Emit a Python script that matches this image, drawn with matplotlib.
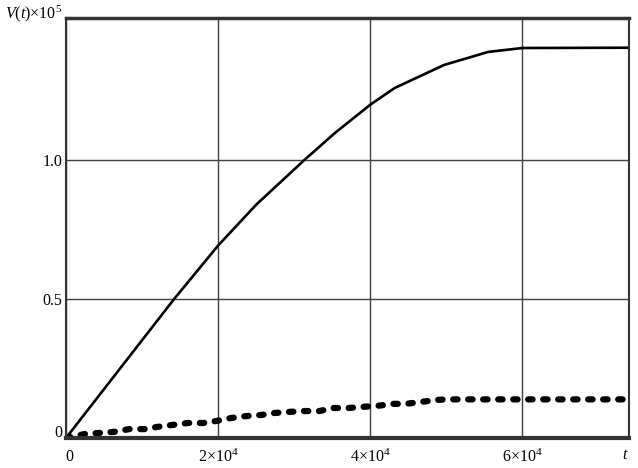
import matplotlib
matplotlib.use("Agg")
import matplotlib.pyplot as plt
from matplotlib.transforms import ScaledTranslation

plt.rcParams['font.family'] = ['Liberation Serif', 'DejaVu Serif']
plt.rcParams['mathtext.fontset'] = 'custom'
plt.rcParams['mathtext.rm'] = 'Liberation Serif'
plt.rcParams['mathtext.it'] = 'Liberation Serif:italic'

# Solid curve V(t) (units of 1e5)
t_solid = [0, 14200, 20000, 25000, 31300, 35300, 40000, 43200, 49700, 55500, 60000, 74000]
v_solid = [0, 0.50, 0.693, 0.84, 1.00, 1.097, 1.20, 1.26, 1.343, 1.39, 1.404, 1.405]

# Dashed curve
t_dash = [0, 2400, 4300, 6300, 8300, 10300, 12000, 14000, 16000, 18000, 19700, 21700,
          23700, 25700, 27400, 29300, 31300, 33300, 35100, 37100, 39000, 41000, 43000,
          44700, 46700, 48700, 50000, 74000]
v_dash = [0, 0.014, 0.018, 0.022, 0.032, 0.032, 0.040, 0.047, 0.054, 0.054, 0.061, 0.072,
          0.079, 0.083, 0.090, 0.094, 0.097, 0.097, 0.108, 0.108, 0.112, 0.116, 0.123,
          0.123, 0.130, 0.137, 0.139, 0.139]

x_ticks = [0, 20000, 40000, 60000]
x_labels = ['0', r'2×10$^4$', r'4×10$^4$', r'6×10$^4$']
y_ticks = [0, 0.5, 1.0]
y_labels = ['0', '0.5', '1.0']

fig = plt.figure(figsize=(6.38, 4.68), dpi=100)
ax = fig.add_axes([66/638, 1-438/468, (629-66)/638, (438-18)/468])

ax.plot(t_solid, v_solid, color='black', lw=1.9, solid_joinstyle='round')
ax.plot(t_dash, v_dash, color='black', lw=4.5, dashes=(0.7, 1.7),
        dash_capstyle='round', dash_joinstyle='round')

ax.set_xlim(0, 74000)
ax.set_ylim(0, 1.512)
ax.set_xticks(x_ticks)
ax.set_xticklabels(x_labels)
ax.set_yticks(y_ticks)
ax.set_yticklabels(y_labels)
ax.tick_params(length=0, labelsize=11.5)
ax.tick_params(axis='x', pad=8)
ax.tick_params(axis='y', pad=2.5)

ax.grid(True, color='0.25', lw=1)
ax.set_axisbelow(True)

for s, w in [('top', 2.5), ('bottom', 3), ('left', 1.5), ('right', 1.5)]:
    ax.spines[s].set_linewidth(w)
    ax.spines[s].set_color('0.2')

# shift the '0' labels slightly as in the reference
yl0 = ax.get_yticklabels()[0]
yl0.set_transform(yl0.get_transform() + ScaledTranslation(0, 7/100, fig.dpi_scale_trans))
xl0 = ax.get_xticklabels()[0]
xl0.set_transform(xl0.get_transform() + ScaledTranslation(3/100, 0, fig.dpi_scale_trans))

fig.text(5/638, 1-14/468, r'$V(t)$×10$^5$', fontsize=11.5, ha='left', va='center')
fig.text(625/638, 1-455/468, r'$t$', fontsize=11.5, ha='center', va='center')

fig.savefig('out.png', dpi=100)
